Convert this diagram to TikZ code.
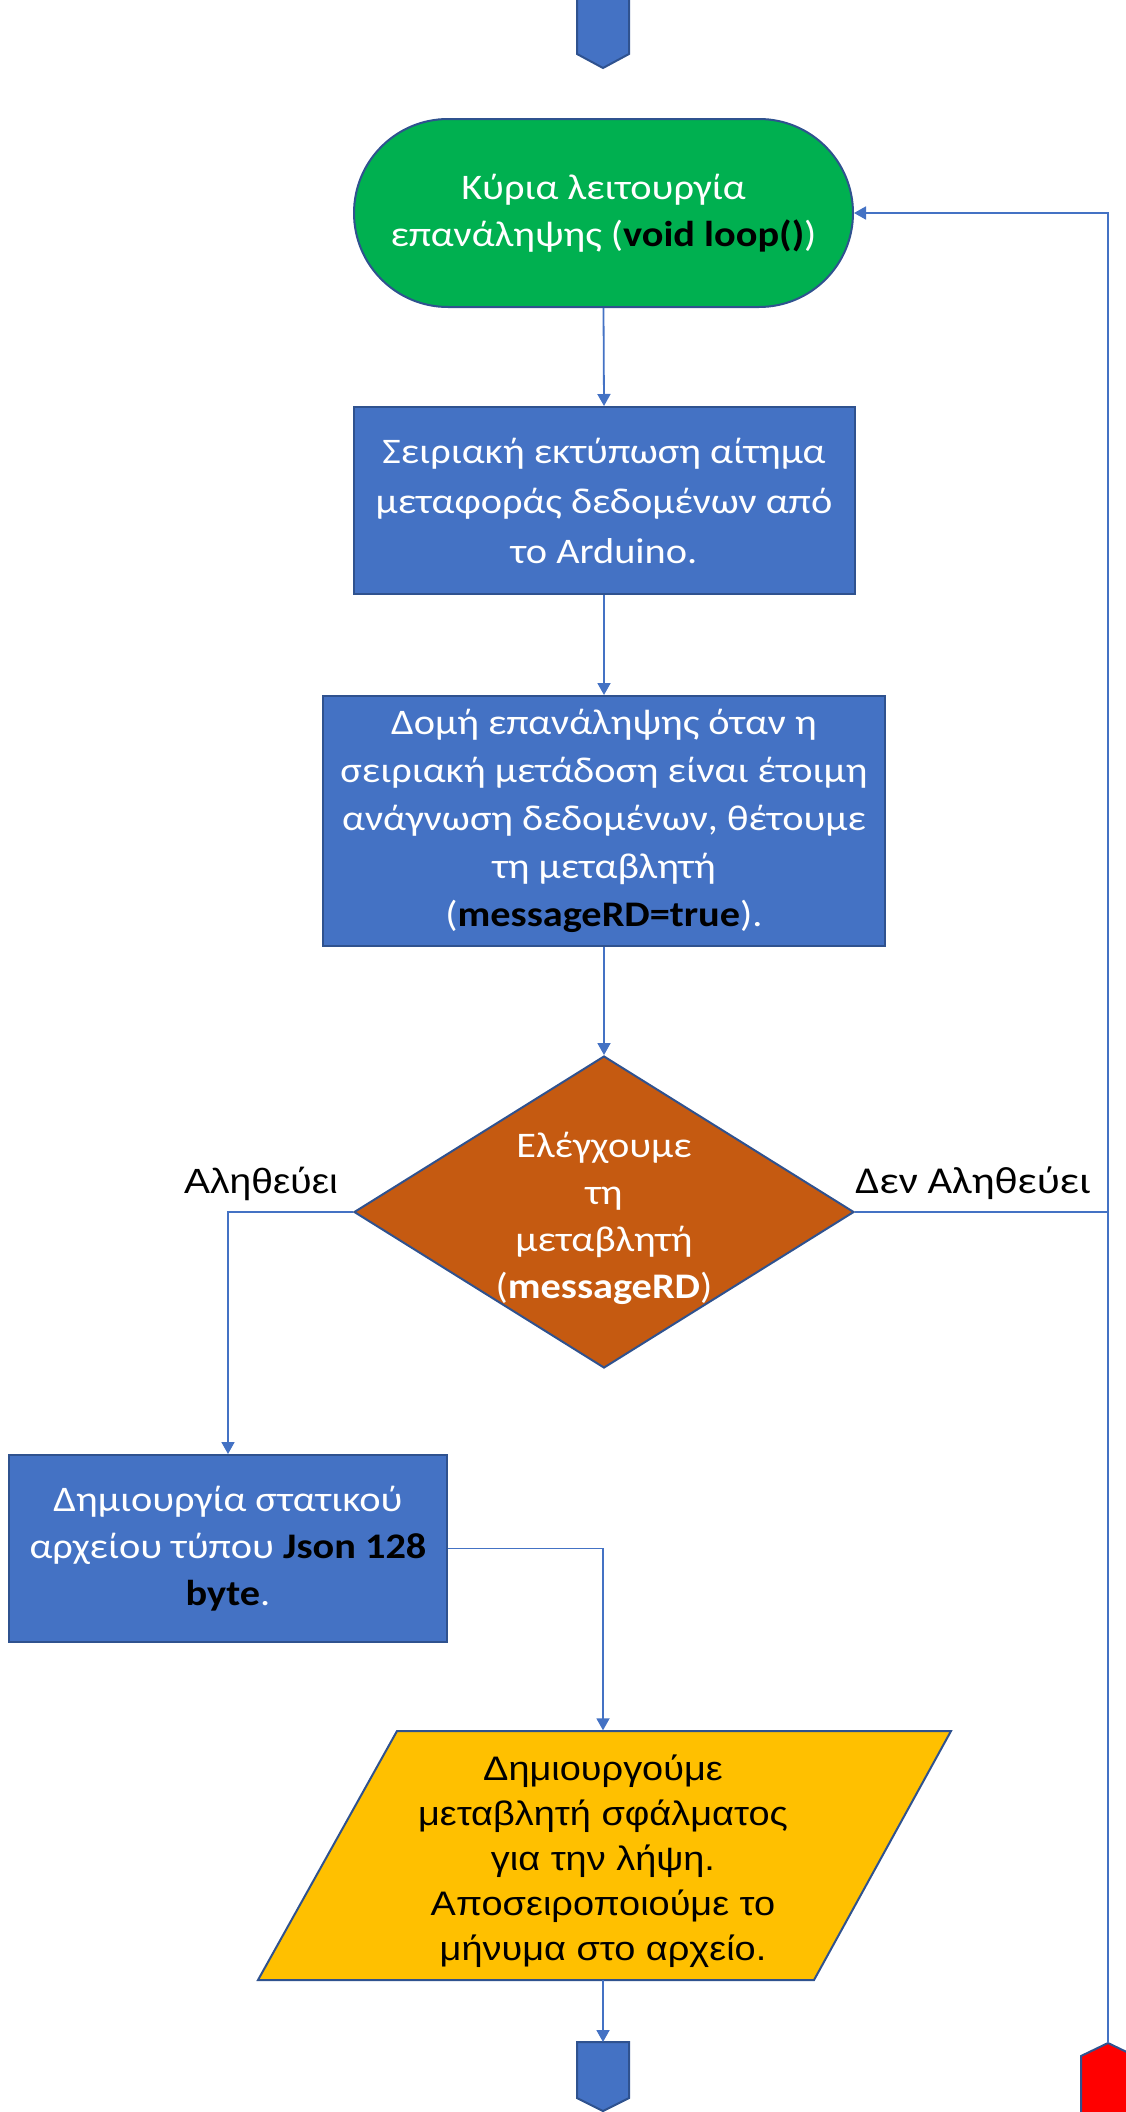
\documentclass[tikz,border=0pt]{standalone}
\usepackage{fontspec}
\setmainfont{Carlito}[FakeStretch=1.12]
\newfontfamily\arialfont{Liberation Sans}[FakeStretch=1.115]
\usetikzlibrary{arrows.meta,shapes.geometric}
\definecolor{officeblue}{HTML}{4472C4}
\definecolor{edgeblue}{HTML}{2F528F}
\definecolor{loopgreen}{HTML}{00B050}
\definecolor{rust}{HTML}{C55A11}
\definecolor{gold}{HTML}{FFC000}
\definecolor{stopred}{HTML}{FF0000}
\newcommand{\code}[1]{\textbf{\color{black}#1}}

\begin{document}
\begin{tikzpicture}[x=1pt,y=-1pt,
  shapebase/.style={draw=edgeblue, line width=2pt, inner sep=0pt, text=white,
    align=center, font=\fontsize{36}{47}\selectfont},
  procbox/.style={shapebase, fill=officeblue, rectangle},
  flow/.style={draw=officeblue, line width=1.8pt, -{Triangle[width=13pt,length=12pt]}},
  link/.style={draw=officeblue, line width=1.8pt},
  offpage/.style={draw=edgeblue, line width=2pt},
  branchlabel/.style={text=black, inner sep=0pt, anchor=base}
]
\useasboundingbox (0,0) rectangle (1126,2112);

% off-page connectors
\filldraw[offpage, fill=officeblue] (577,-5) -- (629,-5) -- (629,54) -- (603,68) -- (577,54) -- cycle;
\filldraw[offpage, fill=officeblue] (577,2042) -- (629,2042) -- (629,2098) -- (603,2111) -- (577,2098) -- cycle;
\filldraw[offpage, fill=stopred] (1081,2130) -- (1081,2056) -- (1108,2043) -- (1135,2056) -- (1135,2130) -- cycle;
\coordinate (endconn) at (603,2042);
\coordinate (retconn) at (1108,2043);

% main loop terminator
\node[shapebase, fill=loopgreen, rounded corners=94pt, minimum width=499pt,
  minimum height=188pt] (loop) at (603.5,213)
  {Κύρια λειτουργία\\επανάληψης (\code{void loop()})};

% process boxes
\node[procbox, minimum width=501pt, minimum height=187pt, font=\fontsize{36}{50}\selectfont] (request) at (604,500.5)
  {Σειριακή εκτύπωση αίτημα\\μεταφοράς δεδομένων από\\το Arduino.};

\node[procbox, minimum width=562pt, minimum height=250pt, font=\fontsize{36}{48}\selectfont] (readloop) at (604,821)
  {Δομή επανάληψης όταν η\\σειριακή μετάδοση είναι έτοιμη\\ανάγνωση δεδομένων, θέτουμε\\τη μεταβλητή\\(\code{messageRD=true}).};

% decision
\node[shapebase, diamond, fill=rust, minimum width=500pt, minimum height=312pt] (check) at (604,1212) {};
\node[shapebase, draw=none] (checktext) at (604,1218)
  {Ελέγχουμε\\τη\\μεταβλητή\\(\textbf{messageRD})};

\node[procbox, minimum width=438pt, minimum height=187pt] (json) at (228,1548.5)
  {Δημιουργία στατικού\\αρχείου τύπου \code{Json 128}\\\code{byte}.};

% input/output parallelogram
\filldraw[draw=edgeblue, line width=2pt, fill=gold]
  (397,1731) -- (951,1731) -- (814,1980) -- (258,1980) -- cycle;
\node[inner sep=0pt, align=center, text=black, minimum height=249pt,
  font=\arialfont\fontsize{34}{45}\selectfont] (parse) at (603,1861)
  {Δημιουργούμε\\μεταβλητή σφάλματος\\για την λήψη.\\Αποσειροποιούμε το\\μήνυμα στο αρχείο.};

% branch labels
\node[branchlabel, font=\arialfont\fontsize{35}{40}\selectfont] (yes) at (261,1193) {Αληθεύει};
\node[branchlabel, font=\fontsize{38}{43}\selectfont] (no) at (973,1193) {Δεν Αληθεύει};

% connectors
\draw[flow] (loop.south) -- (request.north);
\draw[flow] (request.south) -- (readloop.north);
\draw[flow] (readloop.south) -- (check.north);
\draw[flow] (check.west) -| (json.north);
\draw[flow] (json.east) -| ([yshift=6pt]parse.north);
\draw[flow] ([yshift=6pt]parse.south) -- (endconn);
\coordinate (join) at (check.east -| retconn);
\draw[link] (check.east) -- (join);
\draw[flow] (retconn) |- (loop.east);
\end{tikzpicture}
\end{document}
